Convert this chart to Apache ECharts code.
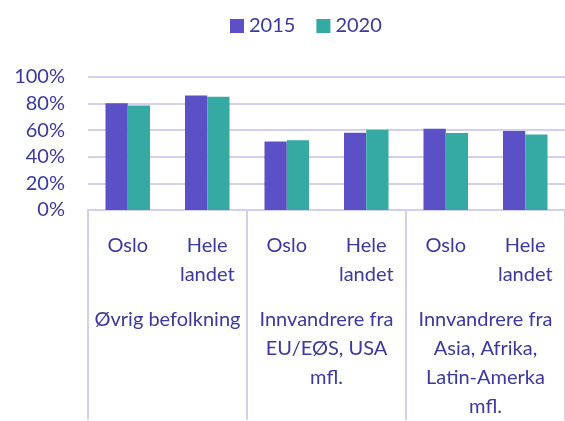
<!DOCTYPE html>
<html><head><meta charset="utf-8">
<script src="https://cdn.jsdelivr.net/npm/echarts@6/dist/echarts.min.js"></script>
<style>html,body{margin:0;padding:0;background:#fff}#c{width:565px;height:421px}</style>
</head><body><div id="c"></div>
<script>
const categories = ['Oslo','Hele\nlandet','Oslo','Hele\nlandet','Oslo','Hele\nlandet'];
const groups = ['Øvrig befolkning','Innvandrere fra\nEU/EØS, USA\nmfl.','Innvandrere fra\nAsia, Afrika,\nLatin-Amerka\nmfl.'];
const values2015 = [0.802, 0.861, 0.515, 0.581, 0.610, 0.594];
const values2020 = [0.785, 0.852, 0.524, 0.603, 0.579, 0.567];
const yTicks = [0, 0.2, 0.4, 0.6, 0.8, 1.0];

const txt = '#3b38a0';
const grid = '#d3cff0';
const font = 'Lato';
const chart = echarts.init(document.getElementById('c'));
chart.setOption({
  animation: false,
  textStyle: {fontFamily: font},
  legend: {
    top: 11, left: 225, itemWidth: 14, itemHeight: 14, itemGap: 21,
    icon: 'rect',
    textStyle: {fontSize: 20, color: txt, fontFamily: font},
    data: ['2015','2020']
  },
  grid: {left: 88, right: 0, top: 77, bottom: 205, containLabel: false},
  xAxis: [{
    type: 'category', data: categories, position: 'bottom',
    axisLine: {show: true, lineStyle: {color: grid, width: 2}},
    axisTick: {show: false},
    axisLabel: {interval: 0, fontSize: 20, color: txt, margin: 21, lineHeight: 29, fontFamily: font},
    splitLine: {show: false}
  }, {
    type: 'category', data: groups, position: 'bottom',
    axisLine: {show: false},
    axisTick: {show: true, length: 210, interval: 0, lineStyle: {color: grid, width: 2}},
    axisLabel: {interval: 0, fontSize: 20, color: txt, margin: 95, lineHeight: 29, fontFamily: font, align: 'center'},
    splitLine: {show: false}
  }],
  yAxis: {
    type: 'value', min: yTicks[0], max: yTicks[yTicks.length-1], interval: 0.2,
    axisLine: {show: false}, axisTick: {show: false},
    axisLabel: {fontSize: 20, color: txt, margin: 23, fontFamily: font,
      formatter: v => Math.round(v*100) + '%'},
    splitLine: {lineStyle: {color: grid, width: 2}}
  },
  series: [{
    name: '2015', type: 'bar', data: values2015, xAxisIndex: 0,
    barGap: '0%', barCategoryGap: '44%',
    itemStyle: {color: '#5b50c6'}
  }, {
    name: '2020', type: 'bar', data: values2020, xAxisIndex: 0,
    barGap: '0%', barCategoryGap: '44%',
    itemStyle: {color: '#35aaa2'}
  }]
});
</script></body></html>
